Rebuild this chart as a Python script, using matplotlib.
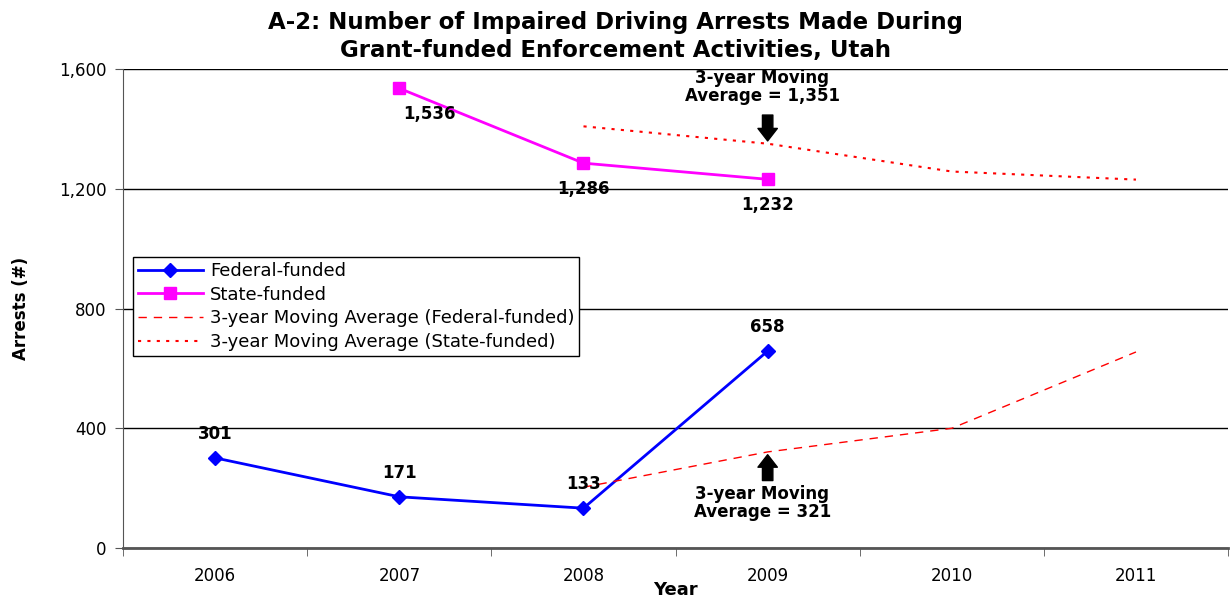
import matplotlib
matplotlib.use('Agg')
import matplotlib.pyplot as plt
import numpy as np

plt.rcParams['font.family'] = ['DejaVu Sans']

years = ['2006', '2007', '2008', '2009', '2010', '2011']
# actual arrests
federal = [301, 171, 133, 658, None, None]
state = [None, 1536, 1286, 1232, None, None]
# 3-year moving averages
federal_ma = [None, None, 203, 321, 400, 655]
state_ma = [None, None, 1409, 1351, 1258, 1231]

fed_labels = ['301', '171', '133', '658']
state_labels = ['1,536', '1,286', '1,232']

x = np.arange(len(years))

def to_arr(v):
    return np.array([np.nan if a is None else a for a in v], dtype=float)

fig = plt.figure(figsize=(12.31, 6.0), dpi=100)
ax = fig.add_axes([0.1, 0.0867, 0.8976, 0.798])

ax.plot(x, to_arr(federal), color='#0000ff', marker='D', markersize=7, lw=2, label='Federal-funded')
ax.plot(x, to_arr(state), color='#ff00ff', marker='s', markersize=8, lw=2, label='State-funded')
ax.plot(x, to_arr(federal_ma), color='red', ls=(0, (6, 5)), lw=1, label='3-year Moving Average (Federal-funded)')
ax.plot(x, to_arr(state_ma), color='red', ls=(0, (1.5, 3)), lw=1.5, label='3-year Moving Average (State-funded)')

# data labels
for i, (v, t) in enumerate(zip(federal[:4], fed_labels)):
    ax.annotate(t, (x[i], v), xytext=(0, 11), textcoords='offset points',
                ha='center', va='bottom', fontsize=12, fontweight='bold')
state_off = [(22, -12), (0, -12), (0, -12)]
for j, (v, t) in enumerate(zip(state[1:4], state_labels)):
    ax.annotate(t, (x[j + 1], v), xytext=state_off[j], textcoords='offset points',
                ha='center', va='top', fontsize=12, fontweight='bold')

# moving average callouts
arrow = dict(arrowstyle='simple,head_width=1.4,head_length=0.9,tail_width=0.75',
             fc='black', ec='black')
ax.annotate('', xy=(x[3], state_ma[3]), xytext=(x[3], state_ma[3] + 105), arrowprops=arrow)
ax.text(x[3] - 0.03, state_ma[3] + 128, '3-year Moving\nAverage = 1,351', ha='center', va='bottom',
        fontsize=12, fontweight='bold', linespacing=1.0)
ax.annotate('', xy=(x[3], federal_ma[3]), xytext=(x[3], federal_ma[3] - 105), arrowprops=arrow)
ax.text(x[3] - 0.03, federal_ma[3] - 112, '3-year Moving\nAverage = 321', ha='center', va='top',
        fontsize=12, fontweight='bold', linespacing=1.0)

ax.set_xlim(-0.5, len(years) - 0.5)
ax.set_ylim(0, 1600)
ax.set_yticks([0, 400, 800, 1200, 1600])
ax.set_yticklabels(['0', '400', '800', '1,200', '1,600'], fontsize=12)
ax.set_xticks(x)
ax.set_xticklabels(years, fontsize=12)
ax.set_xticks(np.arange(-0.5, len(years)), minor=True)
ax.tick_params(axis='x', which='major', length=0, pad=14)
ax.tick_params(axis='x', which='minor', length=6, color='#555555')
ax.tick_params(axis='y', length=6, color='#555555', pad=6)
ax.grid(axis='y', color='black', lw=1)
ax.set_axisbelow(True)
for s in ['top', 'right']:
    ax.spines[s].set_visible(False)
ax.spines['left'].set_color('#555555')
ax.spines['bottom'].set_color('#555555')
ax.spines['bottom'].set_linewidth(2)

ax.set_xlabel('Year', fontsize=13, fontweight='bold', labelpad=-3)
ax.set_ylabel('Arrests (#)', fontsize=12, fontweight='bold', labelpad=21)

leg = ax.legend(loc='upper left', bbox_to_anchor=(0.009, 0.607), fontsize=13, frameon=True,
                fancybox=False, edgecolor='black', framealpha=1, handlelength=3.6,
                handletextpad=0.4, borderpad=0.25, labelspacing=0.32, borderaxespad=0)
leg.get_frame().set_linewidth(1)

fig.text(0.5, 0.982, 'A-2: Number of Impaired Driving Arrests Made During\nGrant-funded Enforcement Activities, Utah',
         ha='center', va='top', fontsize=16.5, fontweight='bold', linespacing=1.3)

fig.savefig('out.png', dpi=100)
